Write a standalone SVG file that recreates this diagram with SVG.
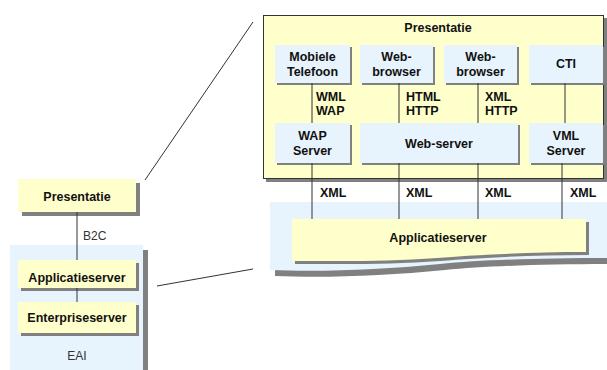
<svg xmlns="http://www.w3.org/2000/svg" width="607" height="370" viewBox="0 0 607 370">
<style>
text{font-family:"Liberation Sans",Arial,sans-serif;font-size:12.5px;font-weight:bold;fill:#111;text-anchor:middle}
.lbl{text-anchor:start}
.reg{font-weight:normal;font-size:12px;fill:#333}
.y{fill:#FFFFCC}
.b{fill:#E8F4FD}
.sh{fill:#808080}
.ln{stroke:#333;stroke-width:1;fill:none}
</style>
<rect width="607" height="370" fill="#fff"/>

<!-- zoom lines -->
<g id="zoom-lines">
<line class="ln" x1="145" y1="180" x2="253" y2="22"/>
<line class="ln" x1="157" y1="286" x2="253" y2="269"/>
</g>

<!-- left side -->
<g id="eai">
<rect class="sh" x="143" y="250" width="5" height="120"/>
<rect class="b" x="10" y="245" width="133" height="125"/>
<text class="reg" x="77" y="360">EAI</text>
</g>
<g id="left-presentatie">
<rect class="sh" x="22" y="183" width="118" height="33"/>
<rect class="y" x="18" y="179" width="118" height="33"/>
<text x="77" y="201">Presentatie</text>
</g>
<g id="left-applicatieserver">
<rect class="sh" x="21" y="263" width="118" height="28"/>
<rect class="y" x="18" y="260" width="118" height="28"/>
<text x="77" y="282">Applicatieserver</text>
</g>
<g id="left-enterpriseserver">
<rect class="sh" x="21" y="305" width="118" height="31"/>
<rect class="y" x="18" y="302" width="118" height="31"/>
<text x="77" y="322">Enterpriseserver</text>
</g>

<!-- right top -->
<g id="presentatie">
<rect class="sh" x="266" y="18" width="341" height="164"/>
<rect class="y" x="263.5" y="15.5" width="340" height="163" stroke="#333" stroke-width="1"/>
<text x="438" y="32">Presentatie</text>
</g>
<g id="mobiele-telefoon">
<rect class="sh" x="277" y="47" width="75" height="38"/>
<rect class="b" x="275" y="45" width="75" height="38"/>
<text x="312.5" y="61">Mobiele</text>
<text x="312.5" y="76">Telefoon</text>
</g>
<g id="web-browser-1">
<rect class="sh" x="362" y="47" width="73" height="38"/>
<rect class="b" x="360" y="45" width="73" height="38"/>
<text x="396.5" y="61">Web-</text>
<text x="396.5" y="76">browser</text>
</g>
<g id="web-browser-2">
<rect class="sh" x="446" y="47" width="73" height="38"/>
<rect class="b" x="444" y="45" width="73" height="38"/>
<text x="480.5" y="61">Web-</text>
<text x="480.5" y="76">browser</text>
</g>
<g id="cti">
<rect class="sh" x="531" y="47" width="74" height="38"/>
<rect class="b" x="529" y="45" width="74" height="38"/>
<text x="566" y="68">CTI</text>
</g>
<g id="wap-server">
<rect class="sh" x="277" y="125" width="75" height="40"/>
<rect class="b" x="275" y="123" width="75" height="40"/>
<text x="312.5" y="140">WAP</text>
<text x="312.5" y="155">Server</text>
</g>
<g id="web-server">
<rect class="sh" x="362" y="125" width="158" height="40"/>
<rect class="b" x="360" y="123" width="158" height="40"/>
<text x="439" y="148">Web-server</text>
</g>
<g id="vml-server">
<rect class="sh" x="531" y="125" width="74" height="40"/>
<rect class="b" x="529" y="123" width="74" height="40"/>
<text x="566" y="140">VML</text>
<text x="566" y="155">Server</text>
</g>

<!-- right bottom -->
<g id="backdrop">
<path class="sh" d="M275,208 H612 V264 C545,264 485,266 445,270 C385,276 325,278 275,276 Z"/>
<path class="b" d="M270,202 H607 V258 C540,258 480,260 440,264 C380,270 320,272 270,270 Z"/>
</g>
<g id="applicatieserver">
<path class="sh" d="M295,222 H589 V255 C530,255 480,258 440,261 C390,265 340,264 295,264 Z"/>
<path class="y" d="M292,219 H586 V252 C527,252 477,255 437,258 C387,262 337,261 292,261 Z"/>
<text x="438" y="242">Applicatieserver</text>
</g>

<g id="connectors">
<line class="ln" x1="77" y1="212" x2="77" y2="260"/>
<line class="ln" x1="77" y1="288" x2="77" y2="302"/>
<line class="ln" x1="312" y1="83" x2="312" y2="123"/>
<line class="ln" x1="399" y1="83" x2="399" y2="123"/>
<line class="ln" x1="478" y1="83" x2="478" y2="123"/>
<line class="ln" x1="565" y1="83" x2="565" y2="123"/>
<line class="ln" x1="312" y1="163" x2="312" y2="219"/>
<line class="ln" x1="399" y1="163" x2="399" y2="219"/>
<line class="ln" x1="478" y1="163" x2="478" y2="219"/>
<line class="ln" x1="562" y1="163" x2="562" y2="219"/>
<text class="reg lbl" x="83" y="240">B2C</text>
<text class="lbl" x="316" y="101">WML</text>
<text class="lbl" x="316" y="115">WAP</text>
<text class="lbl" x="406" y="101">HTML</text>
<text class="lbl" x="406" y="115">HTTP</text>
<text class="lbl" x="485" y="101">XML</text>
<text class="lbl" x="485" y="115">HTTP</text>
<text class="lbl" x="320" y="197">XML</text>
<text class="lbl" x="406" y="197">XML</text>
<text class="lbl" x="485" y="197">XML</text>
<text class="lbl" x="570" y="197">XML</text>
</g>
</svg>
